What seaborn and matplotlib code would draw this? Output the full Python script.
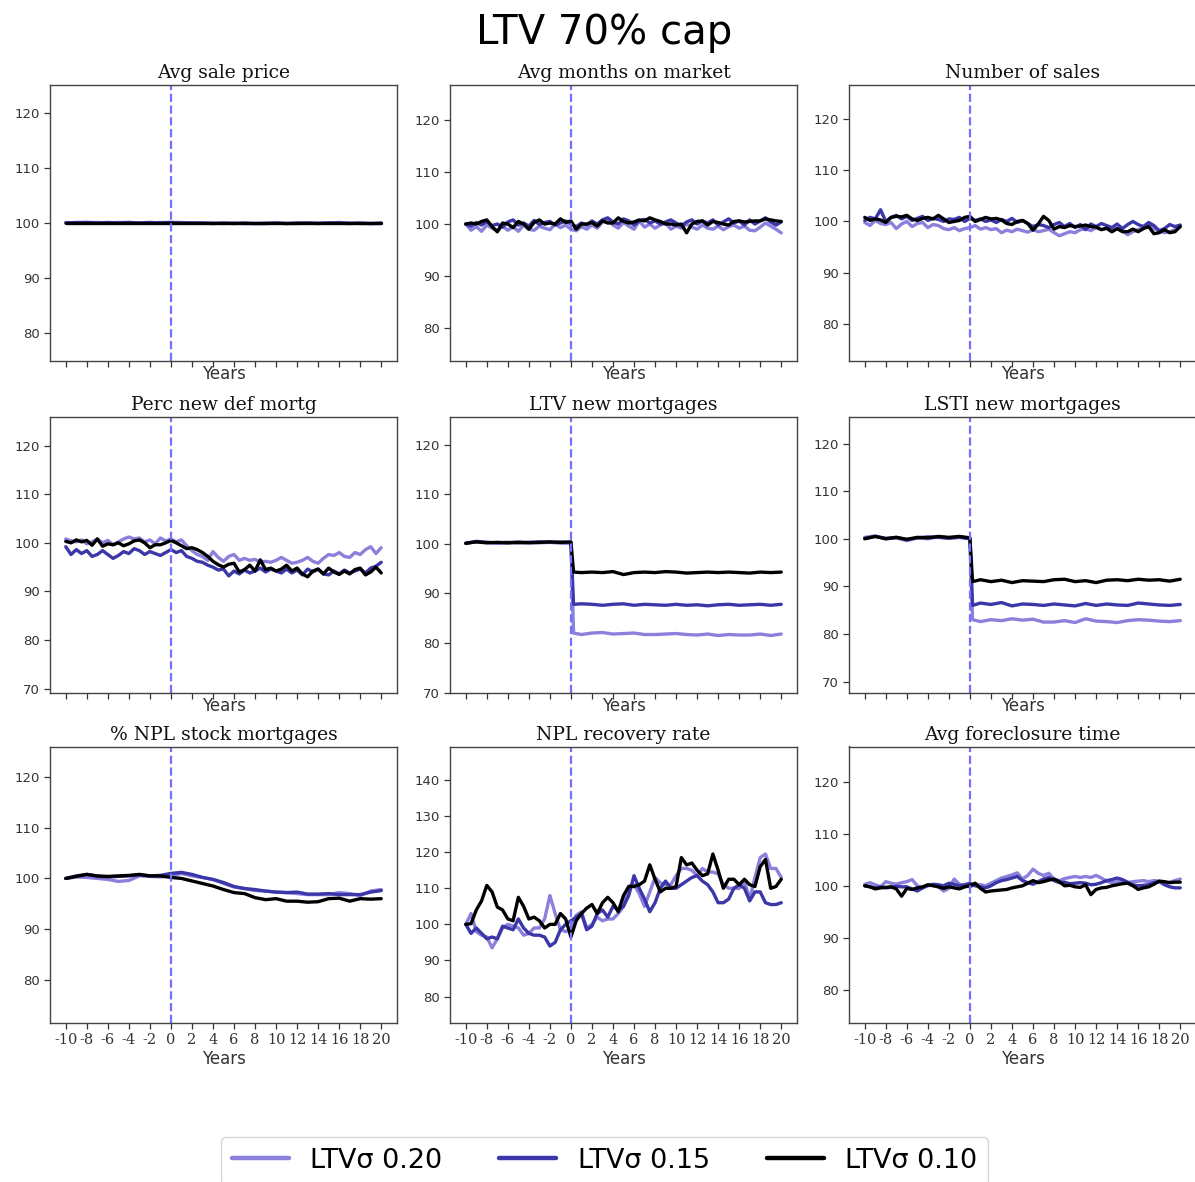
import numpy as np
import pandas as pd
import matplotlib
matplotlib.use("Agg")
import matplotlib.pyplot as plt
from matplotlib.lines import Line2D
from matplotlib.ticker import MultipleLocator
import seaborn as sns

# ---------------- data ----------------
series_labels = ["LTVσ 0.20", "LTVσ 0.15", "LTVσ 0.10"]
series_colors = ["#8b80db", "#3b37a8", "#000000"]

years_half = np.arange(-10, 20.01, 0.5)          # 61 points
years_full = np.arange(-10, 21, 1)               # 31 points
years_jump = [-10, -9, -8, -7, -6, -5, -4, -3, -2, -1, 0, 0.25,
              1, 2, 3, 4, 5, 6, 7, 8, 9, 10, 11, 12, 13, 14, 15, 16, 17, 18, 19, 20]

titles = ["Avg sale price", "Avg months on market", "Number of sales",
          "Perc new def mortg", "LTV new mortgages", "LSTI new mortgages",
          "% NPL stock mortgages", "NPL recovery rate", "Avg foreclosure time"]

# Avg sale price (yearly)
price_020 = [100.1, 100.0, 100.1, 100.1, 100.0, 100.1, 100.1, 100.0, 100.0, 100.1,
             100.1, 100.1, 100.0, 100.0, 100.0, 99.9, 100.0, 99.9, 99.9, 100.0,
             100.0, 99.9, 99.9, 100.0, 100.0, 100.0, 100.1, 100.0, 99.9, 99.9, 99.9]
price_015 = [100.0, 100.1, 100.1, 100.0, 100.1, 100.0, 100.1, 100.0, 100.1, 100.0,
             100.1, 100.0, 100.0, 100.0, 99.9, 100.0, 99.9, 100.0, 99.9, 99.9,
             100.0, 99.9, 100.0, 100.0, 99.9, 100.0, 100.0, 99.9, 100.0, 99.9, 100.0]
price_010 = [100.0, 100.0, 100.0, 100.0, 100.0, 100.0, 100.0, 100.0, 100.0, 100.0,
             100.0, 100.0, 100.0, 100.0, 100.0, 100.0, 100.0, 100.0, 100.0, 100.0,
             100.0, 100.0, 100.0, 100.0, 100.0, 100.0, 100.0, 100.0, 100.0, 100.0, 100.0]

# Avg months on market (half-yearly)
months_020 = [100.0, 98.8, 99.5, 98.6, 99.8, 99.2, 98.7, 99.6, 98.8, 99.5,
              98.6, 99.8, 99.0, 98.8, 99.6, 99.2, 98.9, 100.0, 99.3, 99.8,
              99.0, 98.7, 99.5, 99.0, 99.8, 99.2, 100.4, 101.0, 99.8, 99.2,
              100.3, 99.6, 99.0, 100.6, 99.4, 100.0, 99.2, 99.8, 100.2, 99.0,
              99.6, 99.2, 100.0, 99.4, 99.0, 99.8, 99.2, 99.0, 99.6, 98.9,
              99.5, 99.8, 99.2, 99.6, 98.8, 98.7, 99.4, 100.2, 99.6, 99.0,
              98.3]
months_015 = [100.0, 99.6, 100.3, 99.8, 100.5, 99.7, 100.0, 99.4, 100.4, 100.8,
              99.8, 100.2, 99.6, 100.7, 99.9, 100.3, 100.5, 99.8, 100.2, 100.6,
              100.0, 99.5, 100.2, 99.8, 100.6, 100.0, 100.8, 101.2, 100.4, 100.0,
              101.0, 100.6, 99.8, 100.6, 100.9, 100.2, 100.6, 100.0, 100.4, 100.8,
              100.2, 99.6, 100.4, 100.8, 100.0, 100.6, 100.2, 100.8, 99.8, 100.4,
              101.0, 100.2, 100.6, 99.8, 100.8, 100.0, 100.6, 101.2, 100.4, 99.8,
              100.4]
months_010 = [100.0, 100.2, 100.0, 100.5, 100.8, 99.5, 98.5, 100.2, 100.0, 99.3,
              100.5, 100.0, 99.0, 100.3, 100.8, 100.0, 100.2, 100.0, 101.0, 100.3,
              100.6, 99.0, 100.0, 100.0, 100.3, 99.6, 100.6, 100.2, 100.2, 101.2,
              100.5, 100.2, 100.4, 100.8, 100.6, 101.2, 100.8, 100.5, 100.0, 100.0,
              99.8, 100.0, 98.3, 100.0, 100.5, 100.6, 99.8, 100.5, 100.3, 100.0,
              99.8, 100.5, 100.6, 100.4, 100.5, 100.6, 100.6, 101.0, 100.8, 100.6,
              100.5]

# Number of sales (half-yearly)
sales_020 = [99.8, 99.2, 100.2, 99.6, 99.4, 99.8, 98.6, 99.5, 100.0, 99.0,
             99.6, 99.8, 98.8, 99.4, 99.2, 98.6, 98.4, 98.8, 98.2, 98.6,
             98.8, 99.2, 98.5, 98.8, 98.4, 98.6, 97.8, 98.3, 98.0, 98.5,
             98.2, 97.9, 98.4, 98.0, 98.2, 98.5, 97.8, 97.2, 97.6, 98.0,
             97.8, 98.4, 98.6, 98.2, 98.8, 98.4, 98.6, 98.0, 98.6, 98.2,
             97.4, 98.0, 98.4, 98.8, 99.2, 98.6, 98.2, 97.8, 98.0, 98.4,
             99.0]
sales_015 = [100.2, 100.8, 100.5, 102.3, 100.0, 100.8, 101.2, 100.5, 101.0, 100.2,
             100.6, 101.0, 100.2, 100.6, 100.4, 100.0, 100.5, 100.4, 100.8, 100.0,
             100.6, 100.2, 100.5, 100.0, 100.3, 99.8, 100.4, 100.0, 100.6, 99.8,
             100.2, 99.6, 99.0, 99.4, 99.2, 98.8, 99.4, 99.8, 99.0, 99.6,
             98.8, 99.4, 98.4, 99.5, 99.0, 99.6, 99.2, 98.8, 99.5, 98.6,
             99.4, 100.0, 99.4, 99.0, 99.8, 99.2, 98.2, 98.6, 99.4, 99.0,
             99.3]
sales_010 = [100.8, 100.2, 100.5, 100.3, 99.8, 100.8, 101.0, 100.9, 101.2, 100.5,
             100.2, 100.6, 100.8, 100.5, 101.2, 100.5, 99.8, 100.0, 100.2, 100.8,
             101.0, 100.0, 100.4, 100.8, 100.5, 100.6, 100.3, 99.6, 99.4, 100.0,
             100.2, 99.6, 98.3, 99.5, 101.0, 100.2, 98.5, 99.0, 98.8, 99.2,
             99.0, 99.1, 99.3, 99.0, 98.9, 98.4, 98.7, 98.0, 98.6, 98.0,
             98.0, 98.5, 98.0, 98.6, 99.0, 97.6, 97.8, 98.4, 97.8, 98.0,
             99.0]

# Perc new def mortg (half-yearly)
default_020 = [100.8, 100.4, 100.2, 100.6, 99.8, 100.2, 100.8, 100.0, 100.5, 99.6,
               100.2, 100.8, 101.2, 100.8, 101.0, 100.2, 100.6, 99.8, 101.0, 100.4,
               100.8, 100.2, 100.6, 99.4, 98.4, 97.6, 97.2, 96.4, 98.2, 97.0,
               96.2, 97.2, 97.6, 96.4, 96.8, 96.4, 96.6, 96.0, 96.2, 96.0,
               96.4, 97.0, 96.4, 95.8, 96.0, 96.4, 97.0, 96.2, 95.8, 96.8,
               97.6, 97.4, 98.0, 97.2, 97.0, 98.0, 97.6, 98.6, 99.2, 97.8,
               99.0]
default_015 = [99.2, 97.6, 98.6, 97.8, 98.4, 97.2, 97.6, 98.4, 97.6, 96.8,
               97.4, 98.2, 97.8, 98.8, 98.4, 97.6, 98.2, 97.8, 97.4, 98.0,
               98.6, 98.0, 98.4, 97.2, 96.8, 96.2, 96.0, 95.4, 95.0, 94.4,
               94.6, 93.2, 94.2, 93.6, 94.4, 93.8, 94.2, 94.8, 94.0, 94.6,
               94.2, 93.8, 94.6, 93.8, 94.4, 93.4, 94.6, 94.0, 94.6, 93.6,
               93.4, 94.2, 93.6, 94.4, 93.8, 94.2, 94.6, 93.8, 94.8, 95.2,
               96.0]
default_010 = [100.3, 100.0, 100.6, 100.2, 100.5, 99.5, 100.8, 99.3, 99.8, 99.6,
               100.0, 99.4, 99.8, 100.4, 100.6, 100.0, 99.0, 99.6, 99.6, 100.0,
               100.5, 100.0, 99.4, 98.8, 99.0, 98.6, 98.0, 97.2, 96.2, 95.5,
               95.0, 95.6, 95.8, 94.0, 94.5, 95.4, 94.2, 96.5, 94.5, 94.8,
               94.2, 94.6, 95.4, 94.2, 94.8, 93.6, 93.0, 94.2, 94.6, 93.6,
               94.8, 94.0, 93.5, 94.2, 93.6, 94.5, 94.8, 93.4, 94.0, 95.0,
               93.8]

# LTV new mortgages (jump grid)
ltv_020 = [100.2, 100.4, 100.3, 100.2, 100.2, 100.4, 100.3, 100.2, 100.3, 100.4, 100.2,
           82.0,
           81.7, 82.0, 82.1, 81.8, 81.9, 82.0, 81.7, 81.7, 81.8, 81.9,
           81.7, 81.6, 81.8, 81.5, 81.7, 81.6, 81.6, 81.8, 81.5, 81.8]
ltv_015 = [100.1, 100.5, 100.3, 100.2, 100.3, 100.2, 100.3, 100.4, 100.3, 100.2, 100.2,
           87.8,
           87.9, 87.8, 87.6, 87.8, 87.9, 87.6, 87.8, 87.7, 87.6, 87.8,
           87.6, 87.7, 87.5, 87.7, 87.8, 87.6, 87.7, 87.8, 87.6, 87.8]
ltv_010 = [100.1, 100.4, 100.2, 100.3, 100.2, 100.3, 100.2, 100.3, 100.4, 100.3, 100.4,
           94.3,
           94.2, 94.3, 94.2, 94.4, 93.8, 94.2, 94.3, 94.2, 94.4, 94.3,
           94.1, 94.2, 94.3, 94.2, 94.3, 94.2, 94.1, 94.3, 94.2, 94.3]

# LSTI new mortgages (jump grid)
lsti_020 = [100.3, 100.6, 100.0, 100.2, 99.6, 100.2, 100.0, 100.4, 100.2, 100.4, 100.1,
            83.0,
            82.6, 83.0, 82.8, 83.2, 82.9, 83.1, 82.5, 82.5, 82.8, 82.4,
            83.2, 82.7, 82.6, 82.4, 82.8, 83.0, 82.9, 82.7, 82.6, 82.8]
lsti_015 = [100.1, 100.5, 100.1, 100.3, 99.8, 100.2, 100.4, 100.3, 100.1, 100.3, 100.0,
            86.0,
            86.5, 86.2, 86.6, 85.9, 86.3, 86.2, 86.0, 86.3, 86.1, 85.9,
            86.4, 86.0, 86.3, 86.1, 86.0, 86.5, 86.3, 86.1, 86.0, 86.2]
lsti_010 = [100.0, 100.5, 100.0, 100.3, 99.9, 100.3, 100.2, 100.5, 100.3, 100.5, 100.2,
            91.0,
            91.4, 91.0, 91.3, 90.8, 91.2, 91.1, 91.0, 91.4, 91.5, 91.0,
            91.2, 90.8, 91.3, 91.4, 91.2, 91.5, 91.3, 91.4, 91.1, 91.5]

# % NPL stock mortgages (yearly)
npl_020 = [100.0, 100.3, 100.2, 100.0, 99.8, 99.4, 99.6, 100.5, 100.4, 100.3,
           100.5, 101.0, 100.5, 100.2, 99.8, 99.0, 98.3, 98.0, 97.6, 97.5,
           97.3, 97.2, 97.0, 96.8, 96.8, 96.8, 97.2, 97.0, 96.6, 97.5, 97.8]
npl_015 = [100.0, 100.5, 100.8, 100.4, 100.3, 100.4, 100.5, 100.7, 100.5, 100.6,
           101.0, 101.2, 100.8, 100.2, 99.8, 99.2, 98.4, 98.0, 97.8, 97.5,
           97.3, 97.2, 97.3, 96.9, 96.9, 97.0, 96.8, 96.8, 96.8, 97.3, 97.6]
npl_010 = [100.0, 100.4, 100.8, 100.5, 100.4, 100.5, 100.6, 100.8, 100.5, 100.5,
           100.2, 100.0, 99.5, 99.0, 98.5, 97.8, 97.2, 97.0, 96.2, 95.8,
           96.0, 95.5, 95.5, 95.3, 95.4, 96.0, 96.1, 95.5, 96.0, 95.9, 96.0]

# NPL recovery rate (half-yearly)
recov_020 = [100.0, 103.0, 98.0, 97.0, 96.5, 93.5, 96.0, 99.0, 100.0, 99.5,
             99.0, 97.0, 97.5, 99.0, 99.0, 101.5, 108.0, 103.0, 98.5, 98.0,
             98.5, 102.5, 103.5, 99.0, 100.0, 102.0, 101.0, 101.5, 101.5, 103.0,
             105.0, 110.5, 111.0, 108.5, 105.0, 109.0, 113.0, 111.5, 111.0, 111.0,
             113.5, 115.5, 115.5, 115.0, 113.5, 115.5, 114.5, 114.5, 114.0, 111.0,
             110.0, 110.0, 110.0, 112.0, 107.0, 113.0, 118.5, 119.5, 115.5, 115.5,
             113.0]
recov_015 = [100.0, 97.5, 99.0, 97.5, 96.0, 96.5, 96.0, 99.5, 99.0, 98.5,
             101.5, 99.0, 97.5, 97.0, 97.0, 96.5, 94.0, 95.0, 98.5, 100.0,
             101.0, 102.0, 103.0, 98.5, 99.5, 103.0, 104.0, 102.0, 105.0, 104.0,
             105.0, 108.0, 113.5, 110.0, 107.0, 103.5, 106.0, 110.0, 112.0, 110.0,
             110.0, 111.0, 112.0, 113.0, 113.5, 112.0, 111.0, 109.0, 106.0, 106.0,
             107.0, 110.0, 111.0, 110.0, 106.5, 109.0, 109.0, 106.0, 105.5, 105.5,
             106.0]
recov_010 = [100.0, 100.2, 104.0, 106.5, 110.8, 109.0, 104.8, 104.0, 101.5, 101.0,
             107.5, 105.0, 101.5, 102.0, 101.0, 99.0, 100.0, 100.0, 103.0, 101.5,
             96.5, 101.0, 103.0, 104.5, 105.5, 103.0, 106.0, 107.5, 106.0, 103.5,
             108.0, 110.5, 110.5, 111.0, 112.0, 116.5, 112.5, 109.0, 110.0, 110.0,
             110.5, 118.5, 116.5, 117.0, 115.0, 113.5, 114.0, 119.5, 115.0, 110.0,
             112.5, 112.5, 111.0, 112.5, 111.0, 110.5, 116.0, 118.0, 110.0, 110.5,
             112.5]

# Avg foreclosure time (half-yearly)
forecl_020 = [100.3, 100.6, 100.2, 99.8, 100.8, 100.5, 100.3, 100.6, 100.8, 101.2,
              100.0, 99.6, 100.0, 100.2, 99.8, 99.0, 99.5, 101.3, 100.3, 100.0,
              99.8, 100.2, 100.2, 100.0, 100.5, 101.0, 101.5, 101.8, 102.1, 102.5,
              101.3, 102.0, 103.2, 102.4, 102.0, 102.4, 101.3, 101.0, 101.4, 101.6,
              101.8, 101.6, 101.8, 101.6, 102.0, 101.5, 100.9, 100.6, 100.8, 100.9,
              100.6, 100.8, 100.9, 101.0, 100.8, 101.0, 100.9, 100.4, 100.7, 101.0,
              101.3]
forecl_015 = [100.0, 99.8, 99.6, 99.8, 99.6, 99.7, 99.9, 99.8, 99.8, 99.4,
              99.0, 99.6, 100.1, 100.3, 100.2, 100.0, 100.5, 100.3, 100.0, 100.2,
              100.5, 100.0, 99.8, 99.6, 100.0, 100.6, 101.0, 101.2, 101.5, 101.8,
              101.0, 100.6, 100.3, 100.8, 101.3, 101.6, 101.0, 100.6, 100.7, 100.4,
              100.5, 100.6, 100.5, 100.2, 100.3, 100.6, 101.0, 101.2, 101.5, 101.2,
              100.7, 100.2, 100.0, 100.1, 100.2, 100.6, 100.8, 100.2, 99.8, 99.6,
              99.6]
forecl_010 = [100.0, 99.8, 99.4, 99.6, 99.7, 99.8, 99.4, 98.0, 99.5, 99.3,
              99.6, 99.8, 100.2, 100.0, 99.8, 99.5, 99.8, 99.6, 99.4, 99.8,
              100.0, 100.5, 99.5, 98.8, 99.0, 99.1, 99.2, 99.3, 99.6, 99.8,
              100.0, 100.5, 101.0, 100.6, 100.8, 101.1, 101.3, 100.8, 100.0, 100.1,
              99.8, 99.7, 100.2, 98.3, 99.3, 99.6, 99.7, 100.0, 100.2, 100.4,
              100.5, 100.0, 99.3, 99.6, 99.8, 100.3, 100.9, 100.8, 100.6, 100.7,
              100.7]

panel_years = [years_full, years_half, years_half,
               years_half, years_jump, years_jump,
               years_full, years_half, years_half]
panel_series = [(price_020, price_015, price_010),
                (months_020, months_015, months_010),
                (sales_020, sales_015, sales_010),
                (default_020, default_015, default_010),
                (ltv_020, ltv_015, ltv_010),
                (lsti_020, lsti_015, lsti_010),
                (npl_020, npl_015, npl_010),
                (recov_020, recov_015, recov_010),
                (forecl_020, forecl_015, forecl_010)]
panel_ylims = [(75.0, 125.0), (73.6, 126.8), (72.7, 126.7),
               (69.2, 126.0), (70.0, 125.7), (67.7, 125.7),
               (71.5, 126.1), (72.8, 149.3), (73.7, 126.8)]

# ---------------- figure ----------------
sns.set_style("ticks")
plt.rcParams["font.family"] = ["DejaVu Sans"]
plt.rcParams["axes.unicode_minus"] = False

W, H = 1195, 1182
fig = plt.figure(figsize=(W / 100, H / 100), dpi=100)

col_left = [50, 450, 849]
row_top = [85, 416.5, 746.5]
ax_w, ax_h = 347, 276

palette = dict(zip(series_labels, series_colors))

for i in range(9):
    r, c = divmod(i, 3)
    ax = fig.add_axes([col_left[c] / W, 1 - (row_top[r] + ax_h) / H, ax_w / W, ax_h / H])
    yrs = panel_years[i]
    frames = []
    for lab, vals in zip(series_labels, panel_series[i]):
        frames.append(pd.DataFrame({"year": yrs, "value": vals, "series": lab}))
    df = pd.concat(frames, ignore_index=True)
    sns.lineplot(data=df, x="year", y="value", hue="series", hue_order=series_labels,
                 palette=palette, linewidth=2.4, estimator=None, sort=False,
                 legend=False, ax=ax)
    ax.axvline(0, color="#7272ff", linestyle="--", linewidth=1.6)
    ax.set_xlim(-11.5, 21.5)
    ax.set_ylim(*panel_ylims[i])
    ax.xaxis.set_major_locator(MultipleLocator(2))
    ax.yaxis.set_major_locator(MultipleLocator(10))
    ax.set_title(titles[i], fontsize=13.5, family="DejaVu Serif", color="#111111", pad=5)
    ax.set_ylabel("")
    ax.set_xlabel("Years", fontsize=12, color="#333333", labelpad=(2 if r == 2 else -1))
    ax.tick_params(axis="y", labelsize=9.5, colors="#333333", length=4, width=0.9)
    ax.tick_params(axis="x", labelsize=10.5, colors="#333333", length=4, width=0.9)
    for lab in ax.get_xticklabels():
        lab.set_family("DejaVu Serif")
    if r < 2:
        ax.tick_params(axis="x", labelbottom=False)
    for sp in ax.spines.values():
        sp.set_visible(True)
        sp.set_color("#444444")
        sp.set_linewidth(1.0)

fig.text(0.506, 1 - 33 / H, "LTV 70% cap", ha="center", va="center",
         fontsize=29, color="black")

handles = [Line2D([0], [0], color=col, lw=3.2) for col in series_colors]
fig.legend(handles, series_labels, loc="upper center", ncol=3,
           bbox_to_anchor=(0.506, 1 - 1137 / H), fontsize=19.5, frameon=True,
           handlelength=2.1, columnspacing=2.1, borderaxespad=0.0,
           labelcolor="black")

fig.savefig("out.png", dpi=100)
